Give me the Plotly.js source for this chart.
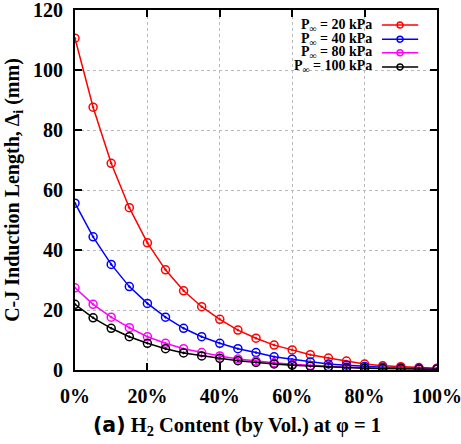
<!DOCTYPE html>
<html>
<head>
<meta charset="utf-8">
<script src="https://cdn.plot.ly/plotly-3.0.1.min.js"></script>
<style>html,body{margin:0;padding:0;background:#fff;}#chart{width:461px;height:444px;}</style>
</head>
<body>
<div id="chart"></div>
<script>
const h2Content = [0,5,10,15,20,25,30,35,40,45,50,55,60,65,70,75,80,85,90,95,100];
const p20kPa  = [110.6,87.6,68.9,54.1,42.4,33.4,26.4,21.1,16.9,13.3,10.6,8.3,6.7,5.1,4.0,3.0,2.0,1.4,1.1,0.8,0.6];
const p40kPa  = [55.6,44.4,35.2,27.8,22.2,17.6,13.9,11.1,8.9,7.1,5.8,4.4,3.6,2.7,2.0,1.6,1.2,0.9,0.7,0.5,0.4];
const p80kPa  = [27.4,21.9,17.6,14.1,11.1,8.9,7.1,5.8,4.7,3.7,3.0,2.4,1.9,1.5,1.2,0.95,0.75,0.6,0.45,0.35,0.3];
const p100kPa = [21.9,17.4,13.9,11.1,8.9,7.1,5.7,4.7,3.9,3.1,2.5,2.0,1.6,1.25,1.0,0.8,0.6,0.5,0.4,0.3,0.25];
const seriesNames = ['P<sub>∞</sub> = 20 kPa','P<sub>∞</sub> = 40 kPa','P<sub>∞</sub> = 80 kPa','P<sub>∞</sub> = 100 kPa'];
const seriesColors = ['#ff0000','#0000ff','#ff00ff','#000000'];
const seriesData = [p20kPa, p40kPa, p80kPa, p100kPa];

const serif = 'Liberation Serif';
const traces = seriesData.map((ys, i) => ({
  x: h2Content, y: ys, type: 'scatter', mode: 'lines+markers',
  name: seriesNames[i],
  line: {color: seriesColors[i], width: 1.5},
  marker: {symbol: 'circle-open-dot', size: 8, color: seriesColors[i], line: {width: 1.5}},
  showlegend: false
}));

// legend: labels as annotations, samples as paper-referenced shapes
const legY = [0.958, 0.919, 0.881, 0.842];
const annotations = seriesNames.map((t, i) => ({
  xref: 'paper', yref: 'paper', x: 0.826, y: legY[i],
  xanchor: 'right', yanchor: 'middle', showarrow: false,
  text: t, font: {family: serif, size: 14, color: '#000', weight: 'bold'}
}));
annotations.push({
  xref: 'paper', yref: 'paper', x: 0.4475, y: -0.1556, xanchor: 'center', yanchor: 'middle',
  showarrow: false,
  text: '<span style="font-family:\'DejaVu Sans\'">(a)</span> H<sub>2</sub> Content (by Vol.) at φ = 1',
  font: {family: serif, size: 20.5, color: '#000', weight: 'bold'}
});
const shapes = [];
seriesColors.forEach((c, i) => {
  shapes.push({type: 'line', xref: 'paper', yref: 'paper', x0: 0.848, x1: 0.948, y0: legY[i], y1: legY[i],
               line: {color: c, width: 1.5}});
  shapes.push({type: 'circle', xref: 'paper', yref: 'paper',
               x0: 0.898 - 3/362, x1: 0.898 + 3/362, y0: legY[i] - 3/360, y1: legY[i] + 3/360,
               line: {color: c, width: 1.5}, fillcolor: 'rgba(0,0,0,0)'});
});

const axisCommon = {
  showline: true, linecolor: '#000', linewidth: 2, mirror: 'ticks',
  ticks: 'inside', ticklen: 7, tickwidth: 2, tickcolor: '#000',
  showgrid: true, gridcolor: '#b8b8b8', griddash: 'dot', gridwidth: 1,
  zeroline: false, ticklabeloverflow: 'allow',
  tickfont: {family: serif, size: 20, color: '#000', weight: 'bold'}
};

const layout = {
  width: 461, height: 444,
  margin: {l: 75, r: 24, t: 10, b: 74},
  font: {family: serif, color: '#000'},
  paper_bgcolor: '#fff', plot_bgcolor: '#fff',
  showlegend: false,
  xaxis: Object.assign({}, axisCommon, {
    range: [0, 100], dtick: 20, ticksuffix: '%', ticklabelstandoff: 7
  }),
  yaxis: Object.assign({}, axisCommon, {
    range: [0, 120], dtick: 20, ticklabelstandoff: 6,
    title: {text: 'C-J Induction Length, Δ<sub>i</sub> (mm)',
            font: {family: serif, size: 20, color: '#000', weight: 'bold'}, standoff: 8}
  }),
  annotations: annotations,
  shapes: shapes
};

Plotly.newPlot('chart', traces, layout, {displayModeBar: false, staticPlot: true});
</script>
</body>
</html>
